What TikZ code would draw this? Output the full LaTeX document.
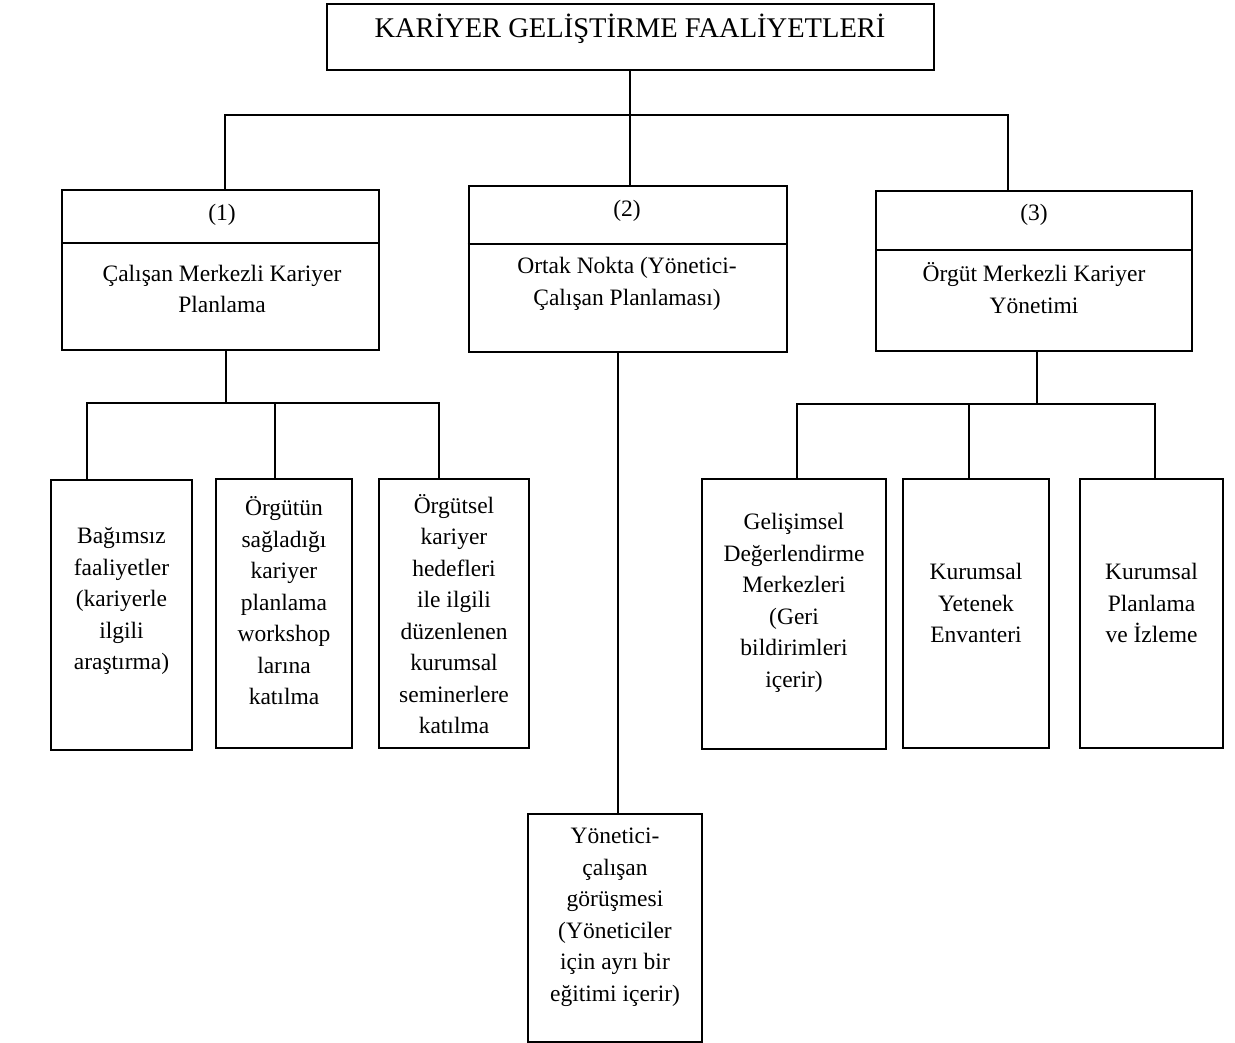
\documentclass[tikz,border=0pt]{standalone}
\usepackage{fontspec}
\setmainfont{Liberation Serif}
\begin{document}
\begin{tikzpicture}[x=1pt,y=-1pt,
  boxst/.style={draw, line width=2pt, inner sep=0pt},
  txt/.style={font=\fontsize{23.5}{31.5}\selectfont, align=center, inner sep=0pt},
  ttl/.style={font=\fontsize{28.5}{34}\selectfont, inner sep=0pt},
  conn/.style={line width=2pt}]
\useasboundingbox (0,0) rectangle (1235,1043);
% top
\node[boxst, minimum width=607pt, minimum height=66pt] (top) at (630.5,37) {};
\node[ttl] (toptxt) at (630,29) {KARİYER GELİŞTİRME FAALİYETLERİ};
% level 1 boxes
\node[boxst, minimum width=317pt, minimum height=160pt] (b1) at (220.5,270) {};
\node[boxst, minimum width=318pt, minimum height=165pt] (b2) at (627.5,269) {};
\node[boxst, minimum width=316pt, minimum height=160pt] (b3) at (1034,271) {};
\draw[conn] (b1.west |- 0,243) -- (b1.east |- 0,243);
\draw[conn] (b2.west |- 0,244) -- (b2.east |- 0,244);
\draw[conn] (b3.west |- 0,250) -- (b3.east |- 0,250);
\node[txt] (b1n) at (222,215) {(1)};
\node[txt] (b2n) at (627,211) {(2)};
\node[txt] (b3n) at (1034,215) {(3)};
\node[txt] (b1t) at (222,289) {Çalışan Merkezli Kariyer\\Planlama};
\node[txt] (b2t) at (627,284) {Ortak Nokta (Yönetici-\\Çalışan Planlaması)};
\node[txt] (b3t) at (1034,288) {Örgüt Merkezli Kariyer\\Yönetimi};
% level 2 left
\node[boxst, minimum width=141pt, minimum height=270pt] (l1) at (121.5,614.5) {};
\node[boxst, minimum width=136pt, minimum height=269pt] (l2) at (284,613.5) {};
\node[boxst, minimum width=150pt, minimum height=269pt] (l3) at (454,613.5) {};
\node[txt] (l1t) at (121.5,601) {Bağımsız\\faaliyetler\\(kariyerle\\ilgili\\araştırma)};
\node[txt] (l2t) at (284,601) {Örgütün\\sağladığı\\kariyer\\planlama\\workshop\\larına\\katılma};
\node[txt] (l3t) at (454,614) {Örgütsel\\kariyer\\hedefleri\\ile ilgili\\düzenlenen\\kurumsal\\seminerlere\\katılma};
% level 2 right
\node[boxst, minimum width=184pt, minimum height=270pt] (r1) at (794,614) {};
\node[boxst, minimum width=146pt, minimum height=269pt] (r2) at (976,613.5) {};
\node[boxst, minimum width=143pt, minimum height=269pt] (r3) at (1151.5,613.5) {};
\node[txt] (r1t) at (794,603) {Gelişimsel\\Değerlendirme\\Merkezleri\\(Geri\\bildirimleri\\içerir)};
\node[txt] (r2t) at (976,603) {Kurumsal\\Yetenek\\Envanteri};
\node[txt] (r3t) at (1151.5,603) {Kurumsal\\Planlama\\ve İzleme};
% bottom
\node[boxst, minimum width=174pt, minimum height=228pt] (d) at (615,928) {};
\node[txt] (dt) at (615,917) {Yönetici-\\çalışan\\görüşmesi\\(Yöneticiler\\için ayrı bir\\eğitimi içerir)};
% junction coordinates
\coordinate (j0) at (630,115);
\coordinate (jl) at (226,403);
\coordinate (jr) at (1037,404);
% connectors
\draw[conn] (top.south -| j0) -- (j0);
\draw[conn] (b1.north -| 225,0) -- (225,0 |- j0) -- (1008,0 |- j0) -- (b3.north -| 1008,0);
\draw[conn] (j0) -- (b2.north -| j0);
\draw[conn] (b1.south -| jl) -- (jl);
\draw[conn] (l1.north -| 87,0) -- (87,0 |- jl) -- (439,0 |- jl) -- (l3.north -| 439,0);
\draw[conn] (l2.north -| 275,0) -- (275,0 |- jl);
\draw[conn] (b3.south -| jr) -- (jr);
\draw[conn] (r1.north -| 797,0) -- (797,0 |- jr) -- (1155,0 |- jr) -- (r3.north -| 1155,0);
\draw[conn] (r2.north -| 969,0) -- (969,0 |- jr);
\draw[conn] (b2.south -| 618,0) -- (d.north -| 618,0);
\end{tikzpicture}
\end{document}
